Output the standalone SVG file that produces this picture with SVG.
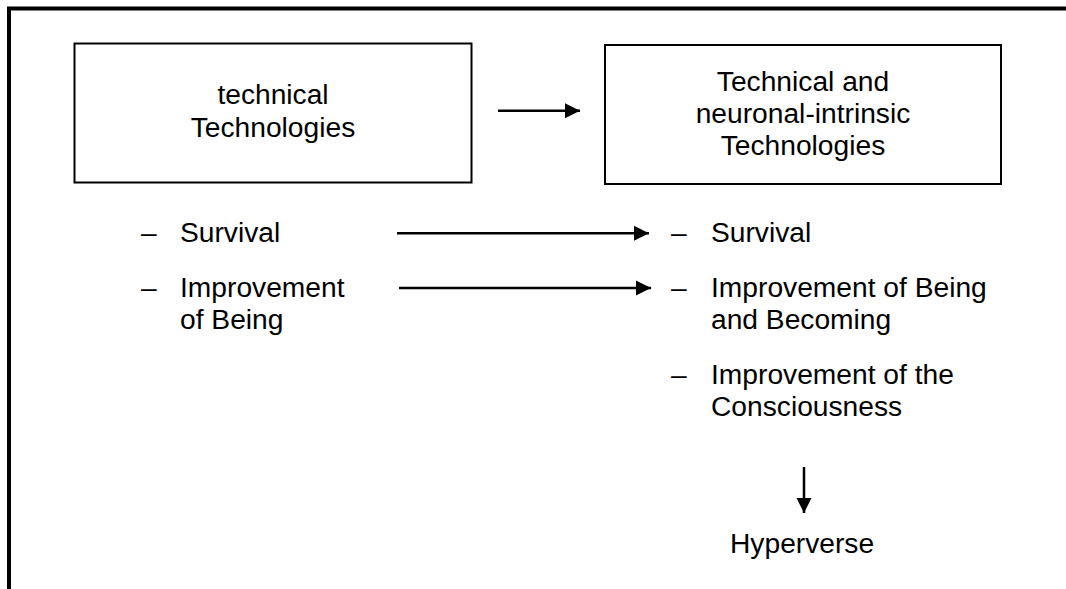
<svg xmlns="http://www.w3.org/2000/svg" width="1066" height="589" viewBox="0 0 1066 589">
<style>
text{font-family:"Liberation Sans",Arial,sans-serif;font-size:28.2px;fill:#000}
.box{fill:#fff;stroke:#000;stroke-width:2}
.c{text-anchor:middle}
.con{stroke:#000;stroke-width:2.5;fill:none}
</style>
<defs>
<marker id="ah" markerUnits="userSpaceOnUse" markerWidth="16" markerHeight="16" refX="15" refY="8" orient="auto">
<path d="M0,0.5 L15,8 L0,15.5 Z" fill="#000"/>
</marker>
</defs>
<rect width="1066" height="589" fill="#fff"/>
<g id="frame">
<path d="M9,589 L9,8.5 L1066,8.5" fill="none" stroke="#000" stroke-width="4"/>
</g>
<g id="node-technical">
<rect class="box" x="74.5" y="43.5" width="397" height="139"/>
<text class="c" x="273" y="104">technical</text>
<text class="c" x="273" y="137">Technologies</text>
</g>
<g id="node-neuronal">
<rect class="box" x="605" y="45" width="396" height="139"/>
<text class="c" x="803" y="91">Technical and</text>
<text class="c" x="803" y="123">neuronal-intrinsic</text>
<text class="c" x="803" y="155">Technologies</text>
</g>
<g id="list-left">
<text x="141" y="242">–</text>
<text x="180" y="242">Survival</text>
<text x="141" y="297">–</text>
<text x="180" y="297">Improvement</text>
<text x="180" y="329">of Being</text>
</g>
<g id="list-right">
<text x="671" y="242">–</text>
<text x="711" y="242">Survival</text>
<text x="671" y="297">–</text>
<text x="711" y="297">Improvement of Being</text>
<text x="711" y="329">and Becoming</text>
<text x="671" y="384">–</text>
<text x="711" y="384">Improvement of the</text>
<text x="711" y="416">Consciousness</text>
</g>
<g id="node-hyperverse">
<text x="730" y="553">Hyperverse</text>
</g>
<g id="connectors">
<line class="con" x1="498" y1="110.7" x2="580" y2="110.7" marker-end="url(#ah)"/>
<line class="con" x1="397" y1="233.3" x2="649" y2="233.3" marker-end="url(#ah)"/>
<line class="con" x1="399" y1="288" x2="651" y2="288" marker-end="url(#ah)"/>
<line class="con" x1="804" y1="467" x2="804" y2="513" marker-end="url(#ah)"/>
</g>
</svg>
